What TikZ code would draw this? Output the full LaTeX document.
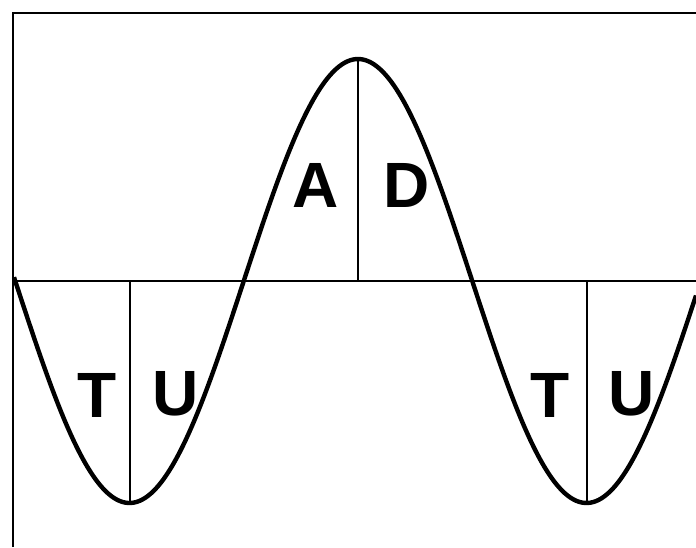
\documentclass[tikz,border=0pt]{standalone}
\usepackage{fontspec}
\setmainfont{Liberation Sans}
\tikzset{
  phaselabel/.style={font=\fontsize{64}{64}\selectfont\bfseries,anchor=base,inner sep=0pt},
  wave/.style={line width=4.4pt,line join=round},
  divider/.style={line width=1.2pt}
}
\begin{document}
\begin{tikzpicture}[x=1pt,y=-1pt]
  \useasboundingbox (0,0) rectangle (696,547);
  % frame and axis
  \draw[line width=2.6pt] (13,547) -- (13,13) -- (696,13);
  \draw[divider] (14,281) -- (696,281);
  % the wave
  \draw[wave,domain=14:696,samples=240,smooth]
    plot (\x,{281-222*cos(0.78775*(\x-358))});
  % dividers at the extremes
  \draw[divider] (130,281) -- (130,503);
  \draw[divider] (358,281) -- (358,59);
  \draw[divider] (587,281) -- (587,503);
  % labels
  \node[phaselabel] (tleft)  at (97,417)  {T};
  \node[phaselabel] (uleft)  at (176,415) {U};
  \node[phaselabel] (atop)   at (316,207) {A};
  \node[phaselabel] (dtop)   at (407,207) {D};
  \node[phaselabel] (tright) at (550,417) {T};
  \node[phaselabel] (uright) at (632,415) {U};
\end{tikzpicture}
\end{document}
